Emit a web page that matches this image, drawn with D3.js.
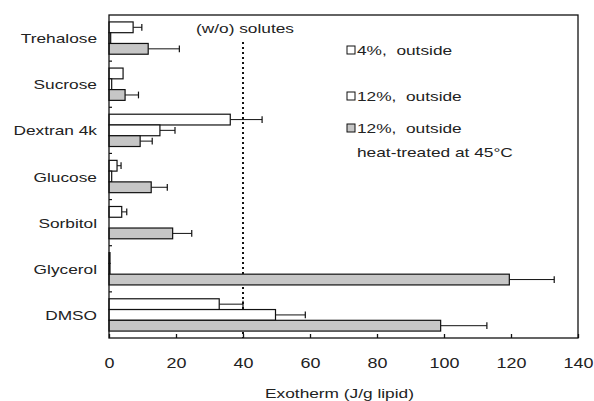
<!DOCTYPE html>
<html lang="en">
<head>
    <meta charset="UTF-8">
    <title>Exotherm chart</title>
    <script src="https://cdn.jsdelivr.net/npm/d3@7"></script>
    <style>
        body { margin: 0; background: #fff; }
        text { font-family: "Liberation Sans", Arial, sans-serif; fill: #222; white-space: pre; }
    </style>
</head>
<body>
    <svg id="chart" width="594" height="401"></svg>

    <script>
        const categories = ["Trehalose", "Sucrose", "Dextran 4k", "Glucose", "Sorbitol", "Glycerol", "DMSO"];
        const seriesNames = ["4%,  outside", "12%,  outside", "12%,  outside"];
        const out4 = [7.2, 4.2, 36.2, 2.4, 3.8, 0.3, 32.9];
        const err4 = [2.6, 0, 9.5, 1.2, 1.5, 0, 7.1];
        const out12 = [0.5, 0.8, 15.2, 0.8, 0, 0.3, 49.7];
        const err12 = [0, 0, 4.5, 0, 0, 0, 8.9];
        const heat45 = [11.7, 4.8, 9.3, 12.6, 19.0, 119.5, 99.0];
        const errHeat45 = [9.3, 4.0, 3.6, 4.8, 5.7, 13.4, 13.8];
        const xTicks = [0, 20, 40, 60, 80, 100, 120, 140];
        const refValue = 40;

        const margin = { top: 15, right: 16, bottom: 63, left: 109 };
        const width = 594, height = 401;
        const stretchK = 1.28;

        const svg = d3.select("#chart");

        const x = d3.scaleLinear().domain([0, 140]).range([margin.left, width - margin.right]);
        const y = d3.scaleBand().domain(categories)
            .range([margin.top, height - margin.bottom])
            .paddingInner(0.3).paddingOuter(0.15);
        const ySub = d3.scaleBand().domain([0, 1, 2]).range([0, y.bandwidth()]);

        const fills = ["#fff", "#fff", "#c6c6c6"];

        // widen text a bit, the original glyphs are stretched
        function stretch(sel) {
            sel.each(function () {
                const w = this.getComputedTextLength();
                d3.select(this).attr("textLength", w * stretchK).attr("lengthAdjust", "spacingAndGlyphs");
            });
        }

        const rows = [];
        categories.forEach((c, i) => {
            rows.push({ cat: c, s: 0, v: out4[i], e: err4[i] });
            rows.push({ cat: c, s: 1, v: out12[i], e: err12[i] });
            rows.push({ cat: c, s: 2, v: heat45[i], e: errHeat45[i] });
        });

        // dotted line for (w/o) solutes
        svg.append("line")
            .attr("x1", x(refValue)).attr("x2", x(refValue))
            .attr("y1", 42).attr("y2", height - margin.bottom)
            .attr("stroke", "#111")
            .attr("stroke-width", 2)
            .attr("stroke-dasharray", "2,3");

        svg.append("text")
            .attr("x", x(refValue) + 2)
            .attr("y", 33)
            .attr("text-anchor", "middle")
            .attr("font-size", "13.5px")
            .text("(w/o) solutes")
            .call(stretch);

        // error bars
        const eb = svg.append("g").selectAll("g")
            .data(rows.filter(d => d.e > 0))
            .join("g");
        eb.append("line")
            .attr("x1", d => x(d.v)).attr("x2", d => x(d.v + d.e))
            .attr("y1", d => y(d.cat) + ySub(d.s) + ySub.bandwidth() / 2)
            .attr("y2", d => y(d.cat) + ySub(d.s) + ySub.bandwidth() / 2)
            .attr("stroke", "#111").attr("stroke-width", 1);
        eb.append("line")
            .attr("x1", d => x(d.v + d.e)).attr("x2", d => x(d.v + d.e))
            .attr("y1", d => y(d.cat) + ySub(d.s) + 2)
            .attr("y2", d => y(d.cat) + ySub(d.s) + ySub.bandwidth() - 2)
            .attr("stroke", "#111").attr("stroke-width", 1.2);

        // bars
        svg.append("g").selectAll("rect")
            .data(rows)
            .join("rect")
            .attr("x", x(0))
            .attr("y", d => y(d.cat) + ySub(d.s))
            .attr("width", d => Math.max(0, x(d.v) - x(0)))
            .attr("height", ySub.bandwidth())
            .attr("fill", d => fills[d.s])
            .attr("stroke", "#111")
            .attr("stroke-width", 1.2);

        // frame
        svg.append("rect")
            .attr("x", margin.left).attr("y", margin.top)
            .attr("width", width - margin.right - margin.left)
            .attr("height", height - margin.bottom - margin.top)
            .attr("fill", "none")
            .attr("stroke", "#111")
            .attr("stroke-width", 1.3);

        // x axis
        const xAxis = svg.append("g")
            .attr("transform", `translate(0,${height - margin.bottom})`)
            .call(d3.axisBottom(x).tickValues(xTicks).tickSizeInner(-4).tickSizeOuter(0).tickPadding(20));
        xAxis.select(".domain").remove();
        xAxis.selectAll(".tick line").attr("stroke", "#111").attr("stroke-width", 1.3);
        xAxis.selectAll(".tick text")
            .attr("font-size", "14px")
            .attr("font-family", "Liberation Sans, Arial, sans-serif")
            .attr("fill", "#222")
            .call(stretch);

        svg.append("text")
            .attr("x", (x(0) + x(140)) / 2 - 4)
            .attr("y", 398)
            .attr("text-anchor", "middle")
            .attr("font-size", "13.5px")
            .text("Exotherm (J/g lipid)")
            .call(stretch);

        // y axis: labels at group centres, small ticks between groups
        svg.append("g").selectAll("text")
            .data(categories)
            .join("text")
            .attr("x", 97)
            .attr("y", d => y(d) + y.bandwidth() / 2 + 5)
            .attr("text-anchor", "end")
            .attr("font-size", "13.5px")
            .text(d => d)
            .call(stretch);

        svg.append("g").selectAll("line")
            .data(categories.slice(1))
            .join("line")
            .attr("x1", x(0)).attr("x2", x(0) + 3)
            .attr("y1", d => y(d) - y.step() * y.paddingInner() / 2)
            .attr("y2", d => y(d) - y.step() * y.paddingInner() / 2)
            .attr("stroke", "#111").attr("stroke-width", 1.2);

        // legend
        const legendY = [46, 92, 124];
        const legend = svg.append("g").selectAll("g")
            .data(seriesNames)
            .join("g")
            .attr("transform", (d, i) => `translate(347,${legendY[i]})`);
        legend.append("rect")
            .attr("width", 8).attr("height", 8)
            .attr("fill", (d, i) => fills[i])
            .attr("stroke", "#111").attr("stroke-width", 1);
        legend.append("text")
            .attr("x", 10).attr("y", 9)
            .attr("font-size", "13.5px")
            .text(d => d)
            .call(stretch);

        svg.append("text")
            .attr("x", 357).attr("y", 157)
            .attr("font-size", "13.5px")
            .text("heat-treated at 45\u00b0C")
            .call(stretch);
    </script>
</body>
</html>
